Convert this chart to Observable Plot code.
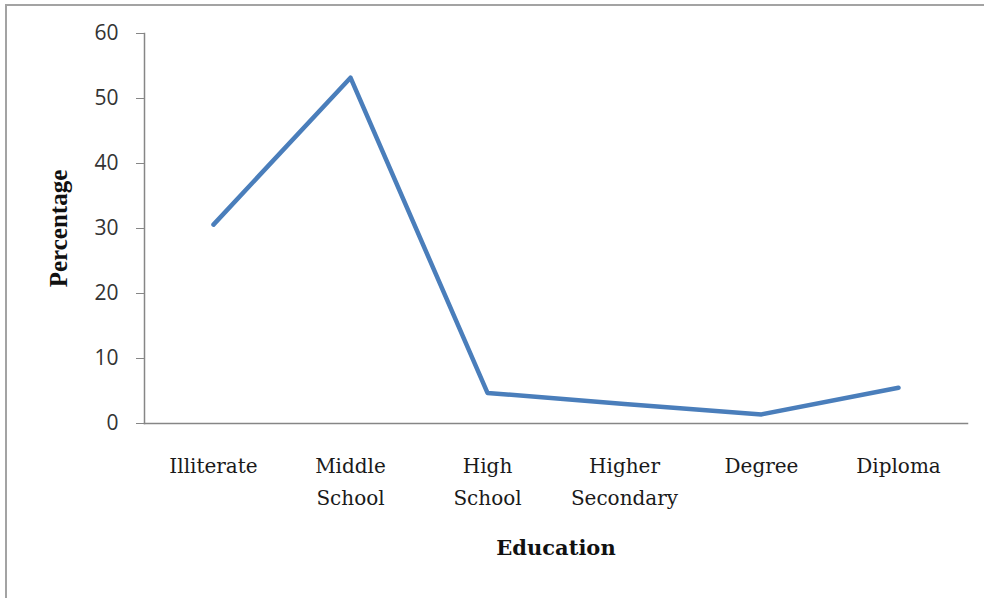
<!DOCTYPE html>
<html>
<head>
<meta charset="utf-8">
<script src="https://cdn.jsdelivr.net/npm/d3@7"></script>
<script src="https://cdn.jsdelivr.net/npm/@observablehq/plot@0.6"></script>
<style>
  html, body { margin: 0; padding: 0; background: #fff; overflow: hidden; }
  #wrap { position: relative; width: 984px; height: 598px; }
  #border {
    position: absolute; left: 5px; top: 4px; width: 1200px; height: 800px;
    border-top: 2px solid #a3a3a3; border-left: 2px solid #a3a3a3;
  }
  #chart { position: absolute; left: 0; top: 0; }
</style>
</head>
<body>
<div id="wrap"><div id="border"></div><div id="chart"></div></div>
<script>
// Education levels, in order along the x axis
const categories = ["Illiterate", "Middle School", "High School", "Higher Secondary", "Degree", "Diploma"];
// Two-line tick labels for the categories
const tickLabels = ["Illiterate", "Middle\nSchool", "High\nSchool", "Higher\nSecondary", "Degree", "Diploma"];
// Share of respondents at each level (%)
const percentages = [30.6, 53.2, 4.7, 3.0, 1.4, 5.5];
// Y axis ticks
const yTicks = [0, 10, 20, 30, 40, 50, 60];

const data = categories.map((c, i) => ({education: c, percentage: percentages[i]}));

const axisGray = "#868686";
const serif = "'DejaVu Serif', serif";

const chart = Plot.plot({
  width: 984,
  height: 598,
  marginLeft: 144,
  marginRight: 17,
  marginTop: 33,
  marginBottom: 175,
  style: {background: "transparent", color: "#222"},
  x: {type: "point", domain: categories, padding: 0.5},
  y: {domain: [0, 60]},
  marks: [
    Plot.frame({anchor: "left", stroke: axisGray, strokeWidth: 1.5}),
    Plot.frame({anchor: "bottom", stroke: axisGray, strokeWidth: 1.5}),
    Plot.axisY({
      ticks: yTicks,
      tickSize: 8,
      tickPadding: 18,
      stroke: axisGray,
      fill: "#333",
      fontSize: 21,
      fontFamily: "'Open Sans', sans-serif",
      label: null
    }),
    Plot.axisX({
      tickSize: 0,
      tickPadding: 27,
      tickFormat: d => tickLabels[categories.indexOf(d)],
      lineHeight: 1.6,
      fill: "#1a1a1a",
      fontSize: 20,
      fontFamily: serif,
      label: null
    }),
    Plot.line(data, {
      x: "education",
      y: "percentage",
      stroke: "#4A7EBB",
      strokeWidth: 4.5
    }),
    Plot.text(["Percentage"], {
      text: d => d,
      frameAnchor: "left",
      textAnchor: "middle",
      rotate: -90,
      dx: -86,
      fontSize: 25,
      fontWeight: "bold",
      fontFamily: "'Liberation Serif', serif",
      fill: "#111"
    }),
    Plot.text(["Education"], {
      text: d => d,
      frameAnchor: "bottom",
      dy: 131,
      fontSize: 21,
      fontWeight: "bold",
      fontFamily: serif,
      fill: "#111"
    })
  ]
});

document.getElementById("chart").appendChild(chart);
</script>
</body>
</html>
